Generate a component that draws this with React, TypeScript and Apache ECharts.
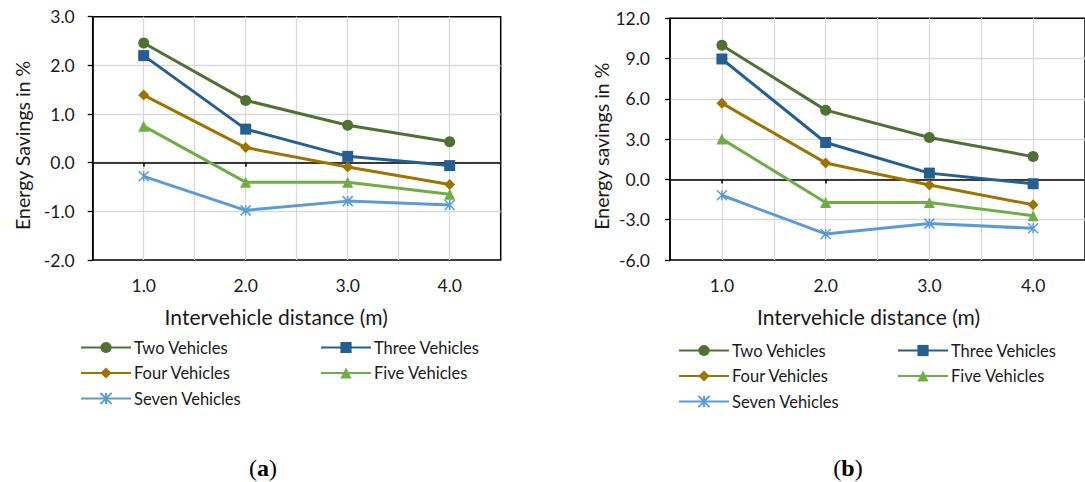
import React, { useEffect, useRef } from "react";
import * as echarts from "echarts";

const distances = [1.0, 2.0, 3.0, 4.0];
const seriesNames = ["Two Vehicles", "Three Vehicles", "Four Vehicles", "Five Vehicles", "Seven Vehicles"];

// (a) Energy Savings in %
const aTwo = [2.46, 1.28, 0.77, 0.43];
const aThree = [2.2, 0.69, 0.13, -0.06];
const aFour = [1.39, 0.31, -0.09, -0.45];
const aFive = [0.75, -0.4, -0.4, -0.65];
const aSeven = [-0.28, -0.98, -0.79, -0.87];

// (b) Energy savings in %
const bTwo = [10.0, 5.16, 3.12, 1.7];
const bThree = [8.97, 2.75, 0.47, -0.32];
const bFour = [5.68, 1.23, -0.42, -1.89];
const bFive = [3.02, -1.72, -1.72, -2.7];
const bSeven = [-1.18, -4.06, -3.29, -3.64];

const aTicks = { min: -2, max: 3, interval: 1 };
const bTicks = { min: -6, max: 12, interval: 3 };

const colors = ["#4f7233", "#255e91", "#9c7400", "#70ad47", "#5b9bd5"];
const symbols = [
  "circle",
  "rect",
  "diamond",
  "triangle",
  "path://M0,0L10,10M10,0L0,10M5,0L5,10",
];
const symbolSizes = [11, 11, 11, 11, 10];

const FONT = "Lato";
const TEXT = "#1a1a1a";

export default function App() {
  const ref = useRef<HTMLDivElement>(null);

  useEffect(() => {
    document.body.style.margin = "0";
    const chart = echarts.init(ref.current!, null, { renderer: "svg" });

    const grids = [
      { left: 92.7, top: 16.7, width: 408, height: 243.3 },
      { left: 670, top: 18.3, width: 420, height: 241.7 },
    ];

    const xAxisFor = (gi: number, namePad: number[]) => [
      {
        type: "value",
        gridIndex: gi,
        min: 0.5,
        max: 4.5,
        interval: 0.5,
        position: "bottom",
        axisLine: { show: false, onZero: false },
        axisTick: { show: false },
        axisLabel: {
          customValues: distances,
          formatter: (v: number) => v.toFixed(1),
          fontFamily: FONT,
          fontSize: 17.5,
          color: TEXT,
          margin: 16,
        },
        splitLine: {
          show: true,
          showMinLine: false,
          showMaxLine: false,
          lineStyle: { color: "#d9d9d9", width: 1.3 },
        },
        name: "Intervehicle distance (m)",
        nameLocation: "middle",
        nameGap: 46,
        nameTextStyle: { fontFamily: FONT, fontSize: 21, color: TEXT, padding: namePad },
      },
      {
        type: "value",
        gridIndex: gi,
        min: 0.5,
        max: 4.5,
        interval: 0.5,
        position: "bottom",
        axisLine: { show: true, onZero: true, lineStyle: { color: "#000", width: 1.5 } },
        axisTick: {
          show: true,
          customValues: distances,
          length: 4,
          lineStyle: { color: "#000", width: 1.5 },
        },
        axisLabel: { show: false },
        splitLine: { show: false },
      },
    ];

    const yAxisFor = (gi: number, t: any, name: string, gap: number, margin: number) => ({
      type: "value",
      gridIndex: gi,
      min: t.min,
      max: t.max,
      interval: t.interval,
      axisLine: { show: true, onZero: false, lineStyle: { color: "#000", width: 1.5 } },
      axisTick: { show: true, length: 5, lineStyle: { color: "#000", width: 1.3 } },
      axisLabel: {
        formatter: (v: number) => v.toFixed(1),
        fontFamily: FONT,
        fontSize: 17.5,
        color: TEXT,
        margin,
      },
      splitLine: {
        show: true,
        showMinLine: false,
        showMaxLine: false,
        lineStyle: { color: "#d9d9d9", width: 1.3 },
      },
      name,
      nameLocation: "middle",
      nameGap: gap,
      nameTextStyle: { fontFamily: FONT, fontSize: 19.5, color: TEXT, padding: [0, 14, 0, 0] },
    });

    const mk = (data: number[], i: number, gi: number) => ({
      name: seriesNames[i],
      type: "line",
      xAxisIndex: gi * 2,
      yAxisIndex: gi,
      data: distances.map((d, k) => [d, data[k]]),
      symbol: symbols[i],
      symbolSize: symbolSizes[i],
      showAllSymbol: true,
      lineStyle: { color: colors[i], width: 3 },
      itemStyle:
        i === 4
          ? { color: "none", borderColor: colors[i], borderWidth: 1.5 }
          : { color: colors[i], borderColor: colors[i], borderWidth: 0 },
      emphasis: { disabled: true },
      z: 10 - i,
    });

    const legendBase = {
      orient: "vertical",
      padding: 0,
      itemWidth: 50,
      itemHeight: 14,
      itemGap: 8.5,
      selectedMode: false,
      textStyle: {
        fontFamily: FONT,
        fontSize: 16.5,
        lineHeight: 14,
        color: TEXT,
        padding: [0, 0, 0, -2],
      },
    };

    const caption = (x: number, letter: string) => ({
      type: "text",
      x,
      y: 468,
      style: {
        text: `{p|(}{b|${letter}}{p|)}`,
        align: "center",
        verticalAlign: "middle",
        rich: {
          p: { fontFamily: "Liberation Serif", fontSize: 24, fill: "#000" },
          b: { fontFamily: "Liberation Serif", fontSize: 24, fontWeight: "bold", fill: "#000" },
        },
      },
    });

    chart.setOption({
      animation: false,
      backgroundColor: "#fff",
      grid: grids.map((g) => ({
        ...g,
        show: true,
        borderColor: "#000",
        borderWidth: 1.5,
        backgroundColor: "transparent",
      })),
      xAxis: [...xAxisFor(0, [0, 41, 0, 0]), ...xAxisFor(1, [0, 18, 0, 0])],
      yAxis: [
        yAxisFor(0, aTicks, "Energy Savings in %", 60, 18),
        yAxisFor(1, bTicks, "Energy savings in %", 56, 20),
      ],
      legend: [
        { ...legendBase, left: 80, top: 339, data: [seriesNames[0], seriesNames[2], seriesNames[4]] },
        { ...legendBase, left: 320, top: 339, data: [seriesNames[1], seriesNames[3]] },
        { ...legendBase, left: 678, top: 342, data: [seriesNames[0], seriesNames[2], seriesNames[4]] },
        { ...legendBase, left: 897, top: 342, data: [seriesNames[1], seriesNames[3]] },
      ],
      graphic: [caption(263, "a"), caption(848, "b")],
      series: [
        mk(aTwo, 0, 0),
        mk(aThree, 1, 0),
        mk(aFour, 2, 0),
        mk(aFive, 3, 0),
        mk(aSeven, 4, 0),
        mk(bTwo, 0, 1),
        mk(bThree, 1, 1),
        mk(bFour, 2, 1),
        mk(bFive, 3, 1),
        mk(bSeven, 4, 1),
      ],
    });

    return () => chart.dispose();
  }, []);

  return <div ref={ref} style={{ width: 1085, height: 482 }} />;
}
